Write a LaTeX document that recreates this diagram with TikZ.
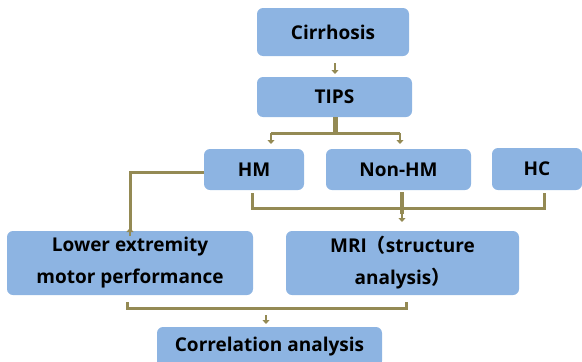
\documentclass[tikz,border=0pt]{standalone}
\usepackage{fontspec}
\setmainfont{Open Sans}
\newfontfamily\cjkfont{Noto Sans CJK SC}
\usetikzlibrary{arrows.meta}
\definecolor{boxblue}{HTML}{8DB4E2}
\definecolor{olive}{HTML}{948A54}
\tikzset{
  stepbox/.style={draw=none, fill=boxblue, rounded corners=6pt, align=center,
    font=\bfseries\fontsize{19}{32}\selectfont, inner sep=0pt},
  conn/.style={draw=olive, line width=3pt},
  tip/.style={draw=olive, line width=2.5pt, -{Triangle[width=7pt,length=4pt]}, shorten >=0pt}
}
\begin{document}
\begin{tikzpicture}[x=1pt,y=-1pt]
\useasboundingbox (0,0) rectangle (582,362);
\clip (0,0) rectangle (582,362);
\node[stepbox, minimum width=152pt, minimum height=48pt] (cir) at (333,32) {Cirrhosis};
\node[stepbox, minimum width=155pt, minimum height=40pt] (tips) at (334.5,97) {TIPS};
\node[stepbox, minimum width=100pt, minimum height=41pt] (hm) at (254,169.5) {HM};
\node[stepbox, minimum width=145pt, minimum height=41pt] (nhm) at (398.5,169.5) {Non-HM};
\node[stepbox, minimum width=90pt, minimum height=42pt] (hc) at (537,169) {HC};
\node[stepbox, minimum width=246pt, minimum height=64pt] (low) at (130,263) {Lower extremity\\motor performance};
\node[stepbox, minimum width=233pt, minimum height=64pt] (mri) at (402.5,263) {MRI{\cjkfont\bfseries （}structure\\analysis{\cjkfont\bfseries ）}};
\node[stepbox, minimum width=225pt, minimum height=40pt] (cor) at (269.5,347) {Correlation analysis};

% Cirrhosis -> TIPS
\coordinate (a1) at (335,63);
\coordinate (a2) at (335,74);
\draw[tip] (a1) -- (a2);

% TIPS -> HM, Non-HM
\coordinate (t0) at (335,117);
\coordinate (t1) at (335,133);
\coordinate (tl) at (271,133);
\coordinate (tr) at (400,133);
\coordinate (tle) at (271,144);
\coordinate (tre) at (400,144);
\draw[draw=olive, line width=5pt] (t0) -- (t1);
\draw[conn] (tl) -- (tr);
\draw[tip] (tl) -- (tle);
\draw[tip] (tr) -- (tre);

% HM -> Lower extremity
\coordinate (h1) at (130,172);
\coordinate (h2) at (130,228);
\draw[conn, line join=miter] (hm.west |- h1) -- (h1) -- ([yshift=-2pt]h2);
\draw[tip] ([yshift=-8pt]h2) -- (h2);

% HM, Non-HM, HC -> MRI
\coordinate (g1) at (252,193);
\coordinate (g2) at (252,208);
\coordinate (g3) at (544,208);
\coordinate (g4) at (544,193);
\coordinate (n1) at (402,192);
\coordinate (n2) at (402,222);
\draw[conn, line join=miter] (g1) -- (g2) -- (g3) -- (g4);
\draw[draw=olive, line width=4pt] (n1) -- (402,214);
\draw[tip] (402,212) -- (n2);

% Lower, MRI -> Correlation
\coordinate (b1) at (127,302);
\coordinate (b2) at (127,308);
\coordinate (b3) at (406,308);
\coordinate (b4) at (406,302);
\draw[conn, line join=miter] (b1) -- (b2) -- (b3) -- (b4);
\coordinate (c1) at (266,315);
\coordinate (c2) at (266,324);
\draw[tip] (c1) -- (c2);
\end{tikzpicture}
\end{document}
